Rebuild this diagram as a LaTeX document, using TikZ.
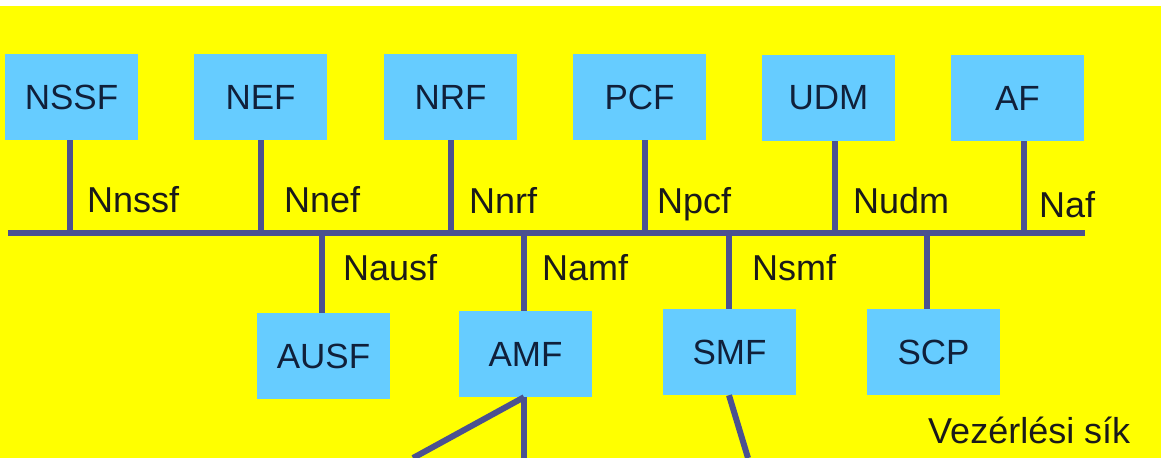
\documentclass[tikz,border=0pt]{standalone}
\usepackage{fontspec}
\setmainfont{Liberation Sans}
\usetikzlibrary{positioning,calc}
\definecolor{PlaneYellow}{HTML}{FFFF00}
\definecolor{NfBlue}{HTML}{66CCFF}
\definecolor{NfText}{HTML}{10203A}
\definecolor{BusLine}{HTML}{4B5190}
\definecolor{IfText}{HTML}{1A1A1A}

\tikzset{
  nfbox/.style={fill=NfBlue, minimum width=133pt, minimum height=86pt, inner sep=0pt,
    text=NfText, font=\fontsize{35}{42}\selectfont},
  iflabel/.style={anchor=base west, inner sep=0pt, text=IfText, font=\fontsize{36}{43}\selectfont},
  busline/.style={line width=6pt, BusLine}
}

\begin{document}
\begin{tikzpicture}[x=1pt, y=-1pt]
\useasboundingbox (0,0) rectangle (1163,458);
% Background of the control plane
\fill[white] (0,0) rectangle (1163,458);
\fill[PlaneYellow] (0,6) rectangle (1161,458);

% Network functions - upper row and lower row
\foreach \name/\txt/\x/\y in {
  nssf/NSSF/71.5/97, nef/NEF/260.5/97, nrf/NRF/450.5/97,
  pcf/PCF/639.5/97, udm/UDM/828.5/98, af/AF/1017.5/98,
  ausf/AUSF/323.5/356, amf/AMF/525.5/354, smf/SMF/729.5/352, scp/SCP/933.5/352}
{
  \node[nfbox] (\name) at (\x,\y) {\txt};
}

% Service based bus
\coordinate (busL) at (8,233);
\coordinate (busR) at (1085,233);
\draw[busline] (busL) -- (busR);

% Upper taps onto the bus
\foreach \name/\x in {nssf/70, nef/261, nrf/451, pcf/645, udm/835, af/1024}
{
  \coordinate (tap-\name) at (\x,233);
  \draw[busline] (\name.south -| tap-\name) -- (tap-\name);
}

% Lower taps onto the bus
\foreach \name/\x in {ausf/322, amf/524, smf/729, scp/927}
{
  \coordinate (tap-\name) at (\x,233);
  \draw[busline] (tap-\name) -- (\name.north -| tap-\name);
}

% Service interface names
\node[iflabel] (l-nssf) at (87,212) {Nnssf};
\node[iflabel] (l-nef) at (284,212) {Nnef};
\node[iflabel] (l-nrf) at (469,213) {Nnrf};
\node[iflabel] (l-pcf) at (657,213) {Npcf};
\node[iflabel] (l-udm) at (853,213) {Nudm};
\node[iflabel] (l-af) at (1039,217) {Naf};
\node[iflabel] (l-ausf) at (343,280) {Nausf};
\node[iflabel] (l-amf) at (542,280) {Namf};
\node[iflabel] (l-smf) at (752,280) {Nsmf};

\node[iflabel] (plane) at (928,443) {Vezérlési sík};

% Links leaving the plane downwards
\coordinate (amf-out1) at (413,458);
\coordinate (amf-out2) at (524,458);
\coordinate (smf-out) at (748,458);
\draw[busline] (amf.south -| amf-out2) -- (amf-out1);
\draw[busline] (amf.south -| amf-out2) -- (amf-out2);
\draw[busline] (smf.south -| tap-smf) -- (smf-out);
\end{tikzpicture}
\end{document}
